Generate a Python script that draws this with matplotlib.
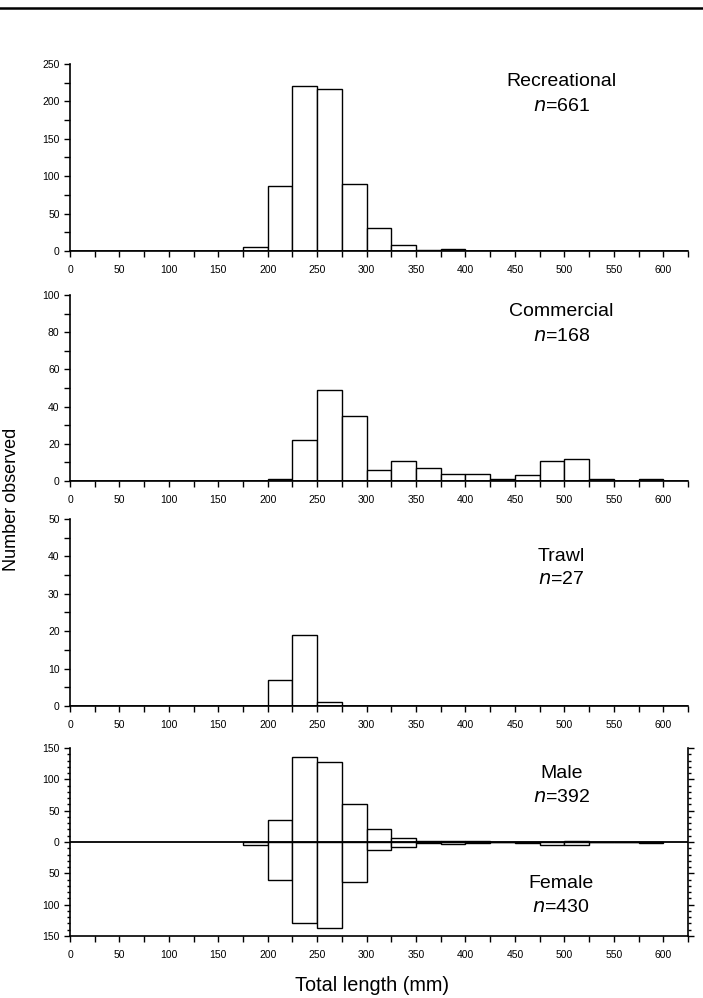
import matplotlib
matplotlib.use("Agg")
import matplotlib.pyplot as plt
import numpy as np
from matplotlib.ticker import MultipleLocator, FuncFormatter
from matplotlib.lines import Line2D

plt.rcParams['font.family'] = ['Liberation Sans', 'DejaVu Sans']

bin_starts = [175, 200, 225, 250, 275, 300, 325, 350, 375, 400, 425, 450, 475, 500, 525, 550, 575]
bin_width = 25

recreational = [5, 87, 220, 216, 89, 31, 8, 2, 3, 0, 0, 0, 0, 0, 0, 0, 0]
commercial = [0, 1, 22, 49, 35, 6, 11, 7, 4, 4, 1, 3, 11, 12, 1, 0, 1]
trawl = [0, 7, 19, 1, 0, 0, 0, 0, 0, 0, 0, 0, 0, 0, 0, 0, 0]
male = [0, 35, 136, 128, 60, 21, 6, 2, 2, 1, 0, 0, 0, 1, 0, 0, 0]
female = [4, 60, 129, 137, 64, 12, 8, 1, 3, 1, 0, 1, 4, 5, 0, 0, 1]

fig = plt.figure(figsize=(7.03, 9.98), dpi=100)
left, width = 0.0996, 0.879
TX = 0.795
FS = 14
panels = [
    (0.7485, 0.1874, recreational, 250, 50, 25, "Recreational", "661", 0.905, 0.77),
    (0.5180, 0.1864, commercial, 100, 20, 10, "Commercial", "168", 0.91, 0.775),
    (0.2926, 0.1874, trawl, 50, 10, 5, "Trawl", "27", 0.80, 0.675),
]

def style_x(ax):
    ax.set_xlim(0, 625)
    ax.xaxis.set_major_locator(MultipleLocator(50))
    ax.xaxis.set_minor_locator(MultipleLocator(25))
    ax.tick_params(axis='x', which='both', direction='out', length=4, width=1, labelsize=7.5, pad=6)
    ax.spines['top'].set_visible(False)

edges = np.array(bin_starts)

for bottom, h, vals, ymax, major, minor, name, n, y1, y2 in panels:
    ax = fig.add_axes([left, bottom, width, h])
    ax.bar(edges, vals, width=bin_width, align='edge', facecolor='white', edgecolor='black', linewidth=1.0)
    ax.set_ylim(0, ymax)
    ax.yaxis.set_major_locator(MultipleLocator(major))
    ax.yaxis.set_minor_locator(MultipleLocator(minor))
    ax.tick_params(axis='y', which='both', direction='out', length=4, width=1, labelsize=7.5)
    ax.spines['right'].set_visible(False)
    style_x(ax)
    ax.axhline(0, color='black', lw=1.2)
    for s in ['left', 'bottom']:
        ax.spines[s].set_linewidth(1.2)
    ax.text(TX, y1, name, transform=ax.transAxes, ha='center', va='center', fontsize=FS)
    ax.text(TX, y2, r"$\it{n}$=" + n, transform=ax.transAxes, ha='center', va='center', fontsize=FS)

# Sex panel
ax = fig.add_axes([left, 0.0621, width, 0.1884])
ax.bar(edges, male, width=bin_width, align='edge', facecolor='white', edgecolor='black', linewidth=1.0)
ax.bar(edges, [-v for v in female], width=bin_width, align='edge', facecolor='white', edgecolor='black', linewidth=1.0)
ax.axhline(0, color='black', lw=1.3)
ax.set_ylim(-150, 150)
ax.yaxis.set_major_locator(MultipleLocator(50))
ax.yaxis.set_minor_locator(MultipleLocator(10))
ax.yaxis.set_major_formatter(FuncFormatter(lambda v, p: f"{abs(int(round(v)))}"))
ax.tick_params(axis='y', which='both', direction='out', length=4, width=1, labelsize=7.5)
ax.tick_params(axis='y', which='minor', length=2.5)
ax.tick_params(axis='y', which='both', right=True)
style_x(ax)
for s in ['left', 'bottom', 'right']:
    ax.spines[s].set_linewidth(1.2)
ax.text(TX, 0.867, "Male", transform=ax.transAxes, ha='center', va='center', fontsize=FS)
ax.text(TX, 0.739, r"$\it{n}$=392", transform=ax.transAxes, ha='center', va='center', fontsize=FS)
ax.text(TX, 0.282, "Female", transform=ax.transAxes, ha='center', va='center', fontsize=FS)
ax.text(TX, 0.154, r"$\it{n}$=430", transform=ax.transAxes, ha='center', va='center', fontsize=FS)

fig.text(0.017, 0.50, "Number observed", rotation=90, ha='center', va='center', fontsize=13)
fig.text(0.529, 0.013, "Total length (mm)", ha='center', va='center', fontsize=14.3)

# top rule
fig.add_artist(Line2D([0, 1], [1 - 7.5 / 998, 1 - 7.5 / 998], transform=fig.transFigure, color='black', lw=1.8))

fig.savefig("out.png", dpi=100)
